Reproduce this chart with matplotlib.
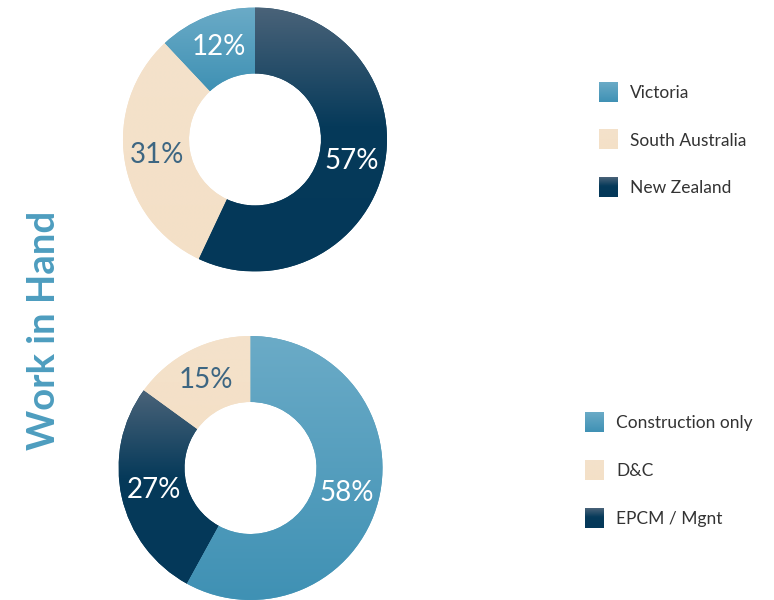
import numpy as np
import matplotlib
matplotlib.use("Agg")
import matplotlib.pyplot as plt
from matplotlib.colors import LinearSegmentedColormap

plt.rcParams['font.family'] = ['Lato', 'DejaVu Sans']

# ---- data ----
region_labels = ["Victoria", "South Australia", "New Zealand"]
region_values = [12, 31, 57]
type_labels = ["Construction only", "D&C", "EPCM / Mgnt"]
type_values = [58, 15, 27]
# wedge drawing order for bottom donut (counter-clockwise from top)
type_order = [1, 2, 0]
title = "Work in Hand"

W, H = 774, 600
fig = plt.figure(figsize=(W / 100, H / 100), dpi=100)

blue_cmap = LinearSegmentedColormap.from_list("blue", ["#6babc7", "#3f91b4"])
navy_cmap = LinearSegmentedColormap.from_list("navy", [(0, "#4a6379"), (0.45, "#063a5a"), (1, "#043859")])
beige_cmap = LinearSegmentedColormap.from_list("beige", ["#f4e2cb", "#f4e0c7"])
styles = {
    "blue": (blue_cmap, "white"),
    "beige": (beige_cmap, "#3d6682"),
    "navy": (navy_cmap, "white"),
}
region_styles = ["blue", "beige", "navy"]
type_styles = ["blue", "beige", "navy"]

grad = np.linspace(0, 1, 256).reshape(-1, 1)


def donut(cx, cy, r, values, stys):
    ax = fig.add_axes([(cx - r) / W, 1 - (cy + r) / H, 2 * r / W, 2 * r / H])
    wedges, texts, autotexts = ax.pie(
        values, startangle=90, counterclock=True, radius=1,
        autopct=lambda p: f"{p:.0f}%", pctdistance=0.75,
        wedgeprops=dict(width=0.5, linewidth=0),
        textprops=dict(fontsize=20),
    )
    for w, t, s in zip(wedges, autotexts, stys):
        cmap, tc = styles[s]
        w.set_facecolor(cmap(0.5))
        ext = w.get_path().get_extents()
        im = ax.imshow(grad, cmap=cmap, aspect="auto", origin="upper",
                       extent=(ext.x0, ext.x1, ext.y0, ext.y1), zorder=1.5,
                       interpolation="bilinear")
        im.set_clip_path(w)
        t.set_color(tc)
        t.set_zorder(3)
    ax.set_xlim(-1, 1)
    ax.set_ylim(-1, 1)
    ax.set_aspect("equal")
    ax.axis("off")
    return ax


donut(255, 139.5, 132, region_values, region_styles)
tv = [type_values[i] for i in type_order]
ts = [type_styles[i] for i in type_order]
donut(250.5, 468, 132, tv, ts)

# overlay axes in pixel coordinates for legend and title
ov = fig.add_axes([0, 0, 1, 1], zorder=5)
ov.axis("off")
ov.patch.set_alpha(0)


def legend(x, y0, dy, labels, stys):
    for i, (lab, s) in enumerate(zip(labels, stys)):
        yc = y0 + i * dy
        cmap, _ = styles[s]
        ov.imshow(grad, cmap=cmap, aspect="auto", origin="upper",
                  extent=(x, x + 19, yc + 10, yc - 10), interpolation="bilinear")
        ov.text(x + 31, yc + 1, lab, fontsize=12.5, color="#333333", va="center", ha="left")


legend(599, 92, 47.5, region_labels, region_styles)
legend(585, 422, 48, type_labels, type_styles)
ov.set_xlim(0, W)
ov.set_ylim(H, 0)

ov.text(44, 330, title, rotation=90, fontsize=27.5, fontweight="bold",
        color="#4d9dbf", ha="center", va="center")

fig.savefig("out.png", dpi=100)
